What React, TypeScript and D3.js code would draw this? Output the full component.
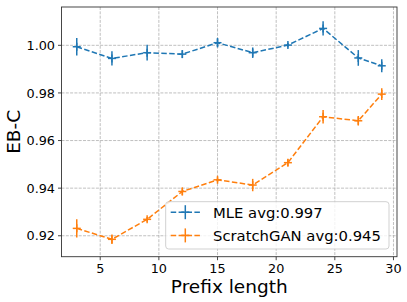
import React from 'react';
import * as d3 from 'd3';

const prefixLengths = [3, 6, 9, 12, 15, 18, 21, 24, 27, 29];
const mleValues = [0.9994, 0.9945, 0.9969, 0.9963, 1.0011, 0.9969, 1.0001, 1.0071, 0.9947, 0.9914];
const mleErrors = [0.0037, 0.003, 0.0033, 0.0016, 0.002, 0.0022, 0.001, 0.003, 0.0033, 0.0027];
const ganValues = [0.9231, 0.9185, 0.9269, 0.9386, 0.9435, 0.9413, 0.9507, 0.970, 0.9683, 0.9795];
const ganErrors = [0.0038, 0.002, 0.001, 0.0016, 0.001, 0.0026, 0.0014, 0.0028, 0.002, 0.0025];
const xTicks = [5, 10, 15, 20, 25, 30];
const yTicks = [0.92, 0.94, 0.96, 0.98, 1.0];
const seriesNames = ['MLE avg:0.997', 'ScratchGAN avg:0.945'];
const seriesColors = ['#1f77b4', '#ff7f0e'];

const W = 407;
const H = 302;
const left = 61.5, right = 397, top = 7, bottom = 256.7;
const font = 'DejaVu Sans, sans-serif';

const App = () => {
  const x = d3.scaleLinear().domain([1.7, 30.3]).range([left, right]);
  const y = d3.scaleLinear().domain([0.9112, 1.0161]).range([bottom, top]);

  const line = d3.line<[number, number]>()
    .x(d => x(d[0]))
    .y(d => y(d[1]));

  const series = [
    { values: mleValues, errors: mleErrors },
    { values: ganValues, errors: ganErrors },
  ];

  return (
    <svg width={W} height={H} style={{ position: 'absolute', left: 0, top: 0, background: '#fff' }}>
      {/* grid */}
      {xTicks.map(t => (
        <line key={'gx' + t} x1={x(t)} x2={x(t)} y1={top} y2={bottom}
          stroke="#b0b0b0" strokeWidth={0.8} strokeDasharray="3,1.3" />
      ))}
      {yTicks.map(t => (
        <line key={'gy' + t} x1={left} x2={right} y1={y(t)} y2={y(t)}
          stroke="#b0b0b0" strokeWidth={0.8} strokeDasharray="3,1.3" />
      ))}

      {/* series */}
      {series.map((s, i) => {
        const pts = prefixLengths.map((p, j) => [p, s.values[j]] as [number, number]);
        return (
          <g key={'s' + i} stroke={seriesColors[i]} fill="none" strokeWidth={1.5}>
            <path d={line(pts) || ''} strokeDasharray="5.5,2.4" />
            {pts.map((d, j) => (
              <g key={j}>
                <line x1={x(d[0])} x2={x(d[0])} y1={y(d[1] - s.errors[j])} y2={y(d[1] + s.errors[j])} />
                <line x1={x(d[0]) - 4} x2={x(d[0]) + 4} y1={y(d[1])} y2={y(d[1])} />
                <line x1={x(d[0])} x2={x(d[0])} y1={y(d[1]) - 4} y2={y(d[1]) + 4} />
              </g>
            ))}
          </g>
        );
      })}

      {/* spines */}
      <rect x={left} y={top} width={right - left} height={bottom - top} fill="none" stroke="#333" strokeWidth={0.9} />

      {/* x ticks */}
      {xTicks.map(t => (
        <g key={'xt' + t}>
          <line x1={x(t)} x2={x(t)} y1={bottom} y2={bottom + 3.5} stroke="#333" strokeWidth={0.9} />
          <text x={x(t)} y={272.7} textAnchor="middle" fontFamily={font} fontSize={12.8} fill="#000">{t}</text>
        </g>
      ))}
      {/* y ticks */}
      {yTicks.map(t => (
        <g key={'yt' + t}>
          <line x1={left - 3.5} x2={left} y1={y(t)} y2={y(t)} stroke="#333" strokeWidth={0.9} />
          <text x={left - 6.5} y={y(t)} dy="0.36em" textAnchor="end" fontFamily={font} fontSize={12.8} fill="#000">{t.toFixed(2)}</text>
        </g>
      ))}

      {/* axis labels */}
      <text x={(left + right) / 2} y={292.7} textAnchor="middle" fontFamily={font} fontSize={18.5} fill="#000">Prefix length</text>
      <text transform={`translate(19.5,${(top + bottom) / 2}) rotate(-90)`} textAnchor="middle" fontFamily={font} fontSize={18.5} fill="#000">EB-C</text>

      {/* legend */}
      <rect x={165.7} y={201.7} width={223.3} height={47.3} rx={3} fill="#fff" fillOpacity={0.8} stroke="#ccc" strokeWidth={0.9} />
      {seriesNames.map((name, i) => {
        const cy = 212.2 + i * 23.2;
        return (
          <g key={'lg' + i}>
            <g stroke={seriesColors[i]} strokeWidth={1.5}>
              <line x1={170.7} x2={200} y1={cy} y2={cy} strokeDasharray="5.5,2.4" />
              <line x1={185.3} x2={185.3} y1={cy - 7} y2={cy + 7} />
              <line x1={181.3} x2={189.3} y1={cy} y2={cy} />
            </g>
            <text x={213} y={cy} dy="0.36em" fontFamily={font} fontSize={14.8} fill="#000">{name}</text>
          </g>
        );
      })}
    </svg>
  );
};

export default App;
